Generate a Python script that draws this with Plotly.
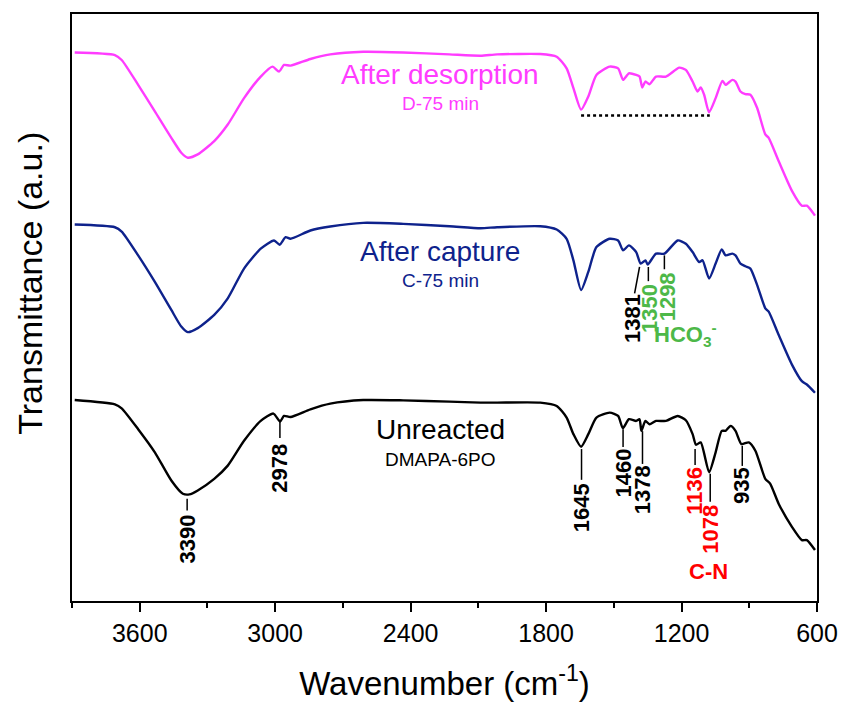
import plotly.graph_objects as go

# ---------------- data (wavenumber in cm-1, transmittance in a.u., curves offset) ----------------
desorp_wn = [3888, 3710, 3680, 3607, 3533, 3460, 3416, 3387, 3343, 3270, 3210, 3138, 3064, 3012,
             2983, 2961, 2932, 2844, 2756, 2610, 2433, 2228, 2090, 2017, 1826, 1753, 1709, 1679,
             1645, 1613, 1577, 1518, 1481, 1459, 1433, 1401, 1386, 1374, 1360, 1342, 1313, 1269,
             1210, 1181, 1151, 1129, 1115, 1100, 1078, 1049, 1019, 1005, 975, 961, 939, 917, 895,
             865, 829, 814, 770, 711, 667, 645, 609]
desorp_t = [552.3, 549.7, 544.7, 519.7, 493.0, 466.3, 451.3, 446.3, 449.7, 463.0, 479.7, 506.3, 528.0, 538.0,
            533.0, 539.7, 539.0, 545.7, 550.3, 553.0, 552.3, 550.3, 549.0, 550.3, 550.7, 548.0, 536.3, 516.3,
            494.7, 508.0, 529.7, 538.0, 536.3, 524.7, 531.3, 529.7, 528.0, 517.0, 523.0, 520.3, 528.0, 528.0,
            537.0, 534.7, 523.0, 513.0, 517.0, 509.7, 492.0, 506.3, 523.7, 519.7, 524.7, 523.0, 513.0, 510.3, 509.7,
            496.3, 469.7, 466.3, 443.0, 413.0, 398.0, 398.0, 388.0]

capture_wn = [3888, 3710, 3680, 3607, 3533, 3460, 3416, 3387, 3343, 3270, 3210, 3138, 3064, 3005,
              2980, 2954, 2932, 2844, 2756, 2610, 2433, 2228, 2090, 2017, 1826, 1753, 1709, 1679,
              1645, 1613, 1577, 1518, 1481, 1459, 1433, 1401, 1381, 1360, 1350, 1313, 1276, 1217,
              1181, 1151, 1122, 1107, 1078, 1049, 1022, 1005, 975, 961, 939, 917, 895, 865, 829,
              814, 770, 711, 667, 645, 609]
capture_t = [379.0, 376.3, 372.0, 348.0, 321.3, 293.0, 276.3, 270.7, 274.7, 288.0, 304.7, 334.7, 354.7, 363.0,
             358.7, 366.3, 364.7, 373.0, 377.0, 380.7, 379.7, 377.3, 375.3, 376.3, 377.3, 374.0, 364.7, 343.0,
             313.0, 331.3, 356.3, 364.7, 363.0, 353.0, 358.0, 351.3, 339.7, 343.0, 338.7, 349.7, 349.7, 363.0,
             359.7, 351.3, 341.3, 343.0, 324.7, 339.7, 354.0, 348.0, 349.7, 348.0, 339.7, 337.0, 334.7, 318.0, 294.7,
             291.3, 268.0, 238.0, 221.3, 218.0, 209.7]

unreact_wn = [3888, 3710, 3680, 3607, 3533, 3460, 3409, 3380, 3343, 3270, 3210, 3138, 3064, 3008,
              2978, 2961, 2932, 2844, 2756, 2610, 2433, 2228, 2090, 2017, 1826, 1753, 1709, 1679,
              1645, 1613, 1577, 1518, 1481, 1460, 1433, 1401, 1386, 1378, 1360, 1342, 1313, 1269,
              1217, 1181, 1151, 1136, 1115, 1078, 1049, 1022, 1005, 983, 961, 935, 902, 873, 829,
              807, 770, 711, 667, 645, 609]
unreact_t = [202.3, 198.0, 194.0, 173.0, 149.7, 121.3, 108.0, 107.3, 111.3, 123.0, 136.3, 161.3, 181.3, 188.7,
             180.7, 186.3, 185.3, 193.0, 198.7, 202.3, 202.0, 200.7, 199.7, 199.7, 199.7, 196.3, 184.7, 168.0,
             155.3, 168.0, 184.7, 189.7, 186.3, 174.0, 183.0, 181.3, 183.0, 171.3, 181.3, 178.0, 181.3, 181.3,
             186.3, 182.0, 168.0, 157.3, 159.7, 129.7, 149.7, 171.3, 171.3, 176.3, 171.3, 158.0, 159.7, 151.3, 123.0,
             118.0, 98.0, 74.7, 61.3, 61.3, 51.3]

tick_vals = [3600, 3000, 2400, 1800, 1200, 600]
tick_text = ["3600", "3000", "2400", "1800", "1200", "600"]

# peak labels on the unreacted curve
unreact_peaks = ["3390", "2978", "1645", "1460", "1378", "1136", "1078", "935"]
unreact_peak_colors = ["black", "black", "black", "black", "black", "red", "red", "black"]
# peak labels on the capture curve
capture_peaks = ["1381", "1350", "1298"]
capture_peak_colors = ["black", "#4DB848", "#4DB848"]

# ---------------- layout helpers (positions of labels/leaders) ----------------
u_lab_x = [3390, 2979, 1643, 1459, 1373, 1140, 1073, 931]
u_lab_y = [62, 134, 94, 128.5, 112, 111, 72, 116]
u_lead_top = [103, 181, 153, 173, 171, 153, 128, 156.3]
u_lead_bot = [91, 164, 122, 155, 138, 137, 100, 136]

c_lab_x = [1415, 1342, 1261]
c_lab_y = [284, 294.5, 306.5]
c_lead_x0 = [1386, 1347, 1276]
c_lead_x1 = [1408, 1347, 1276]
c_lead_top = [336.3, 336.3, 348]
c_lead_bot = [309.7, 322, 334]

MAGENTA = "#FF3CFF"
NAVY = "#0E228C"
GREEN = "#4DB848"
FONT = "Liberation Sans, Arial, sans-serif"

fig = go.Figure()
for wn, t, col in [(desorp_wn, desorp_t, MAGENTA), (capture_wn, capture_t, NAVY),
                   (unreact_wn, unreact_t, "black")]:
    fig.add_trace(go.Scatter(x=wn, y=t, mode="lines",
                             line=dict(color=col, width=2.4, shape="spline", smoothing=0.6),
                             showlegend=False, hoverinfo="skip"))

# dotted line between desorption peaks
fig.add_trace(go.Scatter(x=[1645, 1075], y=[488.7, 488.7], mode="lines",
                         line=dict(color="black", width=2.5, dash="dot"),
                         showlegend=False, hoverinfo="skip"))

annotations = []
for x, t0, t1 in zip(u_lab_x, u_lead_top, u_lead_bot):
    fig.add_trace(go.Scatter(x=[x, x], y=[t0, t1], mode="lines",
                             line=dict(color="black", width=1.5),
                             showlegend=False, hoverinfo="skip"))
for x0, x1, t0, t1 in zip(c_lead_x0, c_lead_x1, c_lead_top, c_lead_bot):
    fig.add_trace(go.Scatter(x=[x0, x1], y=[t0, t1], mode="lines",
                             line=dict(color="black", width=1.5),
                             showlegend=False, hoverinfo="skip"))

for txt, x, y, col in zip(unreact_peaks, u_lab_x, u_lab_y, unreact_peak_colors):
    annotations.append(dict(x=x, y=y, text="<b>%s</b>" % txt, textangle=-90, showarrow=False,
                            xanchor="center", yanchor="middle",
                            font=dict(family=FONT, size=22, color=col)))
for txt, x, y, col in zip(capture_peaks, c_lab_x, c_lab_y, capture_peak_colors):
    annotations.append(dict(x=x, y=y, text="<b>%s</b>" % txt, textangle=-90, showarrow=False,
                            xanchor="center", yanchor="middle",
                            font=dict(family=FONT, size=22, color=col)))

annotations.append(dict(x=1080, y=30, text="<b>C-N</b>", showarrow=False,
                        font=dict(family=FONT, size=22, color="red")))
annotations.append(dict(x=1181, y=268, text="<b>HCO<sub>3</sub><sup>-</sup></b>", showarrow=False,
                        font=dict(family=FONT, size=22, color=GREEN)))

for txt, sub, y1, y2, col in [("After desorption", "D-75 min", 530, 501, MAGENTA),
                              ("After capture", "C-75 min", 352, 323, NAVY),
                              ("Unreacted", "DMAPA-6PO", 173, 142, "black")]:
    annotations.append(dict(x=2268, y=y1, text=txt, showarrow=False, yanchor="middle",
                            font=dict(family=FONT, size=28, color=col)))
    annotations.append(dict(x=2268, y=y2, text=sub, showarrow=False, yanchor="middle",
                            font=dict(family=FONT, size=19, color=col)))

# y-axis title as a free annotation (it sits above the plot centre in the reference)
annotations.append(dict(xref="paper", yref="paper", x=-0.056, y=0.541,
                        text="Transmittance (a.u.)", textangle=-90, showarrow=False,
                        xanchor="center", yanchor="middle",
                        font=dict(family=FONT, size=34, color="black")))

fig.update_layout(
    width=850, height=708,
    margin=dict(l=72, r=28, t=12, b=105),
    paper_bgcolor="white", plot_bgcolor="white",
    annotations=annotations,
    font=dict(family=FONT, color="black"),
    xaxis=dict(range=[3900, 600], tickmode="array", tickvals=tick_vals, ticktext=tick_text,
               ticks="outside", ticklen=9, tickwidth=2, tickcolor="black",
               minor=dict(tickmode="array", tickvals=[3900, 3300, 2700, 2100, 1500, 900],
                          ticks="outside", ticklen=5, tickwidth=2, tickcolor="black"),
               showline=True, linewidth=2, linecolor="black", mirror=True,
               showgrid=False, zeroline=False,
               tickfont=dict(family=FONT, size=25, color="black"),
               title=dict(text="Wavenumber (cm<sup>-1</sup>)",
                          font=dict(family=FONT, size=33, color="black"), standoff=26)),
    yaxis=dict(range=[0, 591], showticklabels=False, ticks="",
               showline=True, linewidth=2, linecolor="black", mirror=True,
               showgrid=False, zeroline=False),
)

fig.write_html("out.html")
